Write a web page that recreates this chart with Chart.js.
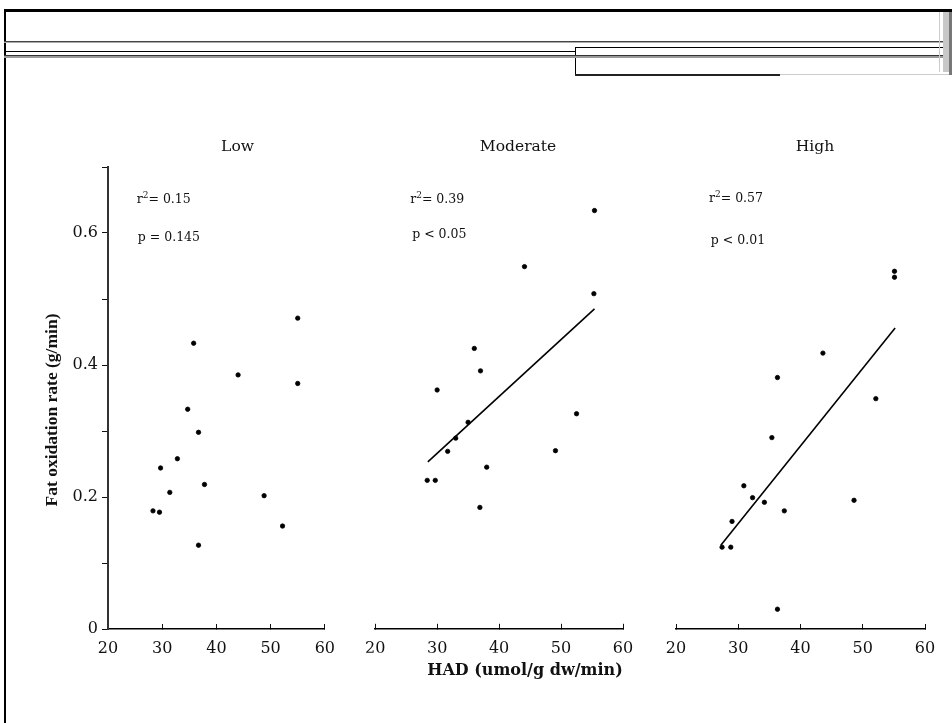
<!DOCTYPE html>
<html>
<head>
<meta charset="utf-8">
<script src="https://cdn.jsdelivr.net/npm/chart.js@4"></script>
<style>
  body { margin: 0; background: #fff; }
  #page { position: relative; width: 952px; height: 723px; overflow: hidden; background: #fff; }
  #page canvas { position: absolute; }
  .rule { position: absolute; }
</style>
</head>
<body>
<div id="page">
  <!-- page frame / header rules -->
  <div class="rule" style="left:4px;top:9px;width:948px;height:3px;background:#000"></div>
  <div class="rule" style="left:4px;top:9px;width:2px;height:714px;background:#000"></div>
  <div class="rule" style="left:4px;top:41px;width:948px;height:1px;background:#444"></div>
  <div class="rule" style="left:4px;top:42px;width:948px;height:1px;background:#aaa"></div>
  <div class="rule" style="left:4px;top:51px;width:571px;height:1px;background:#000"></div>
  <div class="rule" style="left:575px;top:47px;width:377px;height:1px;background:#000"></div>
  <div class="rule" style="left:575px;top:47px;width:1px;height:28px;background:#000"></div>
  <div class="rule" style="left:4px;top:55px;width:948px;height:1px;background:#333"></div>
  <div class="rule" style="left:4px;top:56px;width:948px;height:2px;background:#999"></div>
  <div class="rule" style="left:575px;top:74px;width:205px;height:2px;background:#222"></div>
  <div class="rule" style="left:780px;top:74px;width:172px;height:1px;background:#ccc"></div>
  <div class="rule" style="left:939px;top:12px;width:1px;height:60px;background:#ccc"></div>
  <div class="rule" style="left:943px;top:12px;width:6px;height:60px;background:#c8c8c8"></div>
  <div class="rule" style="left:949px;top:12px;width:3px;height:63px;background:#777"></div>

  <canvas id="low-chart" width="320" height="580" style="left:30px;top:120px"></canvas>
  <canvas id="mod-chart" width="340" height="580" style="left:350px;top:120px"></canvas>
  <canvas id="high-chart" width="302" height="580" style="left:650px;top:120px"></canvas>
</div>

<script>
// HAD (umol/g dw/min) and fat oxidation rate (g/min)
const lowHad = [28.3, 29.5, 29.7, 31.4, 32.8, 34.7, 35.8, 36.7, 36.7, 37.8, 44.0, 48.8, 52.2, 55.0, 55.0];
const lowFat = [0.179, 0.177, 0.244, 0.207, 0.258, 0.333, 0.433, 0.298, 0.127, 0.219, 0.385, 0.202, 0.156, 0.471, 0.372];

const modHad = [28.4, 29.7, 30.0, 31.7, 33.0, 35.0, 36.0, 37.0, 36.9, 38.0, 44.1, 49.1, 52.5, 55.4, 55.3];
const modFat = [0.225, 0.225, 0.362, 0.269, 0.289, 0.313, 0.425, 0.391, 0.184, 0.245, 0.549, 0.270, 0.326, 0.634, 0.508];

const highHad = [27.4, 28.8, 29.0, 30.9, 32.3, 34.2, 35.4, 36.3, 36.3, 37.4, 43.6, 48.6, 52.1, 55.1, 55.1];
const highFat = [0.124, 0.124, 0.163, 0.217, 0.199, 0.192, 0.290, 0.381, 0.030, 0.179, 0.418, 0.195, 0.349, 0.542, 0.533];

// regression lines (end points)
const modFitHad = [28.5, 55.4];
const modFitFat = [0.253, 0.485];
const highFitHad = [27.2, 55.2];
const highFitFat = [0.127, 0.456];

const panelNames = ['Low', 'Moderate', 'High'];
const rSquared = ['0.15', '0.39', '0.57'];
const pValues = ['p = 0.145', 'p < 0.05', 'p < 0.01'];

const xTicks = [20, 30, 40, 50, 60];
const yTickLabels = ['0', '', '0.2', '', '0.4', '', '0.6', ''];

const INK = '#111';
const SERIF = '"DejaVu Serif", "Liberation Serif", serif';
const tickFont = { family: SERIF, size: 16 };

const toPoints = (xs, ys) => xs.map((x, i) => ({ x, y: ys[i] }));

// panel title + r² / p annotation, placed in data units of each panel
const statNotes = {
  id: 'statNotes',
  afterDraw(chart, args, opts) {
    const { ctx, scales: { x, y } } = chart;
    ctx.save();
    ctx.fillStyle = INK;
    ctx.textBaseline = 'alphabetic';

    ctx.font = `15.5px ${SERIF}`;
    ctx.textAlign = 'center';
    ctx.fillText(opts.title, x.getPixelForValue(opts.titleAt[0]), y.getPixelForValue(opts.titleAt[1]));

    ctx.textAlign = 'left';
    let px = x.getPixelForValue(opts.rAt[0]);
    const py = y.getPixelForValue(opts.rAt[1]);
    ctx.font = `12.5px ${SERIF}`;
    ctx.fillText('r', px, py);
    px += ctx.measureText('r').width;
    ctx.font = `9px ${SERIF}`;
    ctx.fillText('2', px, py - 5);
    px += ctx.measureText('2').width;
    ctx.font = `12.5px ${SERIF}`;
    ctx.fillText('= ' + opts.r2, px, py);

    ctx.fillText(opts.p, x.getPixelForValue(opts.pAt[0]), y.getPixelForValue(opts.pAt[1]));
    ctx.restore();
  }
};

const xScale = () => ({
  type: 'linear',
  min: xTicks[0],
  max: xTicks[xTicks.length - 1],
  ticks: {
    stepSize: xTicks[1] - xTicks[0],
    color: INK,
    font: tickFont,
    padding: 15,
    maxRotation: 0,
    autoSkip: false
  },
  grid: { drawOnChartArea: false, drawTicks: true, tickLength: -5, color: INK, lineWidth: 1 },
  border: { display: true, color: '#000', width: 1.5 },
  afterFit: (s) => { s.height = 24; }
});

const scatterSet = (xs, ys) => ({
  data: toPoints(xs, ys),
  pointRadius: 2.2,
  pointBorderWidth: 0.8,
  pointBackgroundColor: '#000',
  pointBorderColor: '#000',
  showLine: false
});

const fitSet = (xs, ys) => ({
  data: toPoints(xs, ys),
  showLine: true,
  borderColor: '#000',
  borderWidth: 1.6,
  pointRadius: 0,
  fill: false
});

const baseOptions = (i, notes) => ({
  responsive: false,
  animation: false,
  events: [],
  plugins: {
    legend: { display: false },
    tooltip: { enabled: false },
    statNotes: { title: panelNames[i], r2: rSquared[i], p: pValues[i], ...notes }
  }
});

// Low: carries the y axis and its title
const lowOptions = baseOptions(0, { titleAt: [43.9, 0.7235], rAt: [25.3, 0.645], pAt: [25.5, 0.588] });
lowOptions.layout = { padding: { top: 47, bottom: 47, left: 0, right: 23 } };
lowOptions.plugins.title = {
  display: true,
  position: 'left',
  text: 'Fat oxidation rate (g/min)',
  color: INK,
  font: { family: '"Liberation Serif", serif', size: 17.5, weight: 'bold' },
  padding: { top: 11.5, bottom: 0 }
};
lowOptions.scales = {
  x: xScale(),
  y: {
    min: 0,
    max: 0.7,
    ticks: {
      stepSize: 0.1,
      color: INK,
      font: tickFont,
      padding: 4,
      callback: (v) => yTickLabels[Math.round(v * 10)] ?? ''
    },
    grid: { drawOnChartArea: false, drawTicks: true, tickLength: 6, color: INK, lineWidth: 1 },
    border: { display: true, color: '#333', width: 2 },
    afterFit: (s) => { s.width = 45.5; }
  }
};

// Moderate: carries the shared x title
const modOptions = baseOptions(1, { titleAt: [43.06, 0.7235], rAt: [25.65, 0.646], pAt: [25.97, 0.592] });
modOptions.layout = { padding: { top: 47, bottom: 20, left: 25, right: 15 } };
modOptions.plugins.title = {
  display: true,
  position: 'bottom',
  text: 'HAD (umol/g dw/min)',
  color: INK,
  font: { family: SERIF, size: 16, weight: 'bold' },
  padding: { top: 8, bottom: 0 }
};
modOptions.scales = {
  x: xScale(),
  y: {
    position: 'right',
    min: 0,
    max: 0.7,
    ticks: { display: false },
    grid: { display: false },
    border: { display: false },
    afterFit: (s) => { s.width = 52; }
  }
};

const highOptions = baseOptions(2, { titleAt: [42.33, 0.7235], rAt: [25.3, 0.647], pAt: [25.6, 0.583] });
highOptions.layout = { padding: { top: 47, bottom: 47, left: 26, right: 27 } };
highOptions.scales = {
  x: xScale(),
  y: { display: false, min: 0, max: 0.7 }
};

document.addEventListener('DOMContentLoaded', () => {
  if (typeof Chart === 'undefined') return;

  new Chart(document.getElementById('low-chart'), {
    type: 'scatter',
    data: { datasets: [scatterSet(lowHad, lowFat)] },
    options: lowOptions,
    plugins: [statNotes]
  });

  new Chart(document.getElementById('mod-chart'), {
    type: 'scatter',
    data: { datasets: [scatterSet(modHad, modFat), fitSet(modFitHad, modFitFat)] },
    options: modOptions,
    plugins: [statNotes]
  });

  new Chart(document.getElementById('high-chart'), {
    type: 'scatter',
    data: { datasets: [scatterSet(highHad, highFat), fitSet(highFitHad, highFitFat)] },
    options: highOptions,
    plugins: [statNotes]
  });
});
</script>
</body>
</html>
